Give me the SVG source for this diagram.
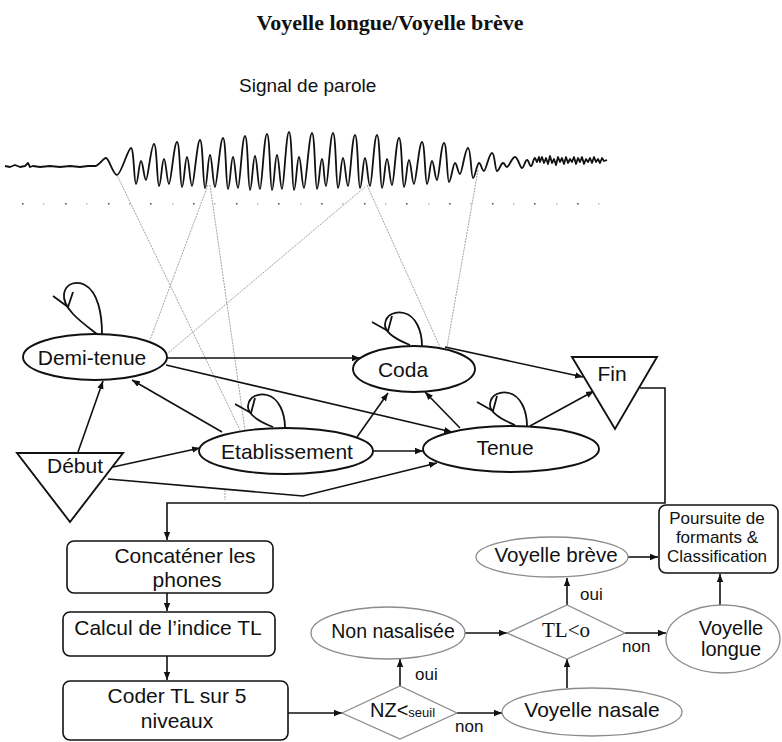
<svg xmlns="http://www.w3.org/2000/svg" width="782" height="742" viewBox="0 0 782 742">
<style>
.t{font-family:"Liberation Sans",Arial,sans-serif;fill:#111;text-anchor:middle}
.node{fill:#fff;stroke:#111;stroke-width:1.9}
.gnode{fill:#fff;stroke:#8c8c8c;stroke-width:1.3}
.box{fill:#fff;stroke:#111;stroke-width:1.6}
.edge{fill:none;stroke:#111;stroke-width:1.6;marker-end:url(#ah)}
.loop{fill:none;stroke:#111;stroke-width:1.8}
.map{fill:none;stroke:#8a8a8a;stroke-width:0.8;stroke-dasharray:2 1}
</style>
<defs>
<marker id="ah" viewBox="0 0 10 10" refX="10" refY="5" markerWidth="8" markerHeight="8" markerUnits="userSpaceOnUse" orient="auto"><path d="M0,1 L10,5 L0,9 z" fill="#111"/></marker>
<g id="loopL"><path class="loop" d="M -5,0 C -18,-10 -40,-25 -38,-40 C -36,-52 -24,-53 -17,-49 C -4,-42 0,-20 0,0"/><path class="loop" d="M -49,-38 L -34,-27 L -29,-42"/></g>
<g id="loopS"><path class="loop" d="M -12,-1 C -22,-5 -38,-12 -37,-22 C -36,-32 -26,-35 -18,-33 C -6,-30 0,-15 0,0"/><path class="loop" d="M -50,-24 L -34,-15 L -30,-30"/></g>
</defs>
<rect width="782" height="742" fill="#fff"/>

<text x="390" y="30" style="font-family:'Liberation Serif','Times New Roman',serif;font-weight:bold;font-size:22px;text-anchor:middle;fill:#111">Voyelle longue/Voyelle brève</text>
<text x="239" y="92" style="font-family:'Liberation Sans',Arial,sans-serif;font-size:19px;fill:#111">Signal de parole</text>

<g id="waveform">
<path fill="none" stroke="#111" stroke-width="1.8" stroke-linejoin="round" d="M5,166 L10,167 15,165 20,167 25,166 28,163 30,167 33,166 40,167 50,166 60,167 70,166 80,167 88,166 95,166 C99,166 103,158 106,158 S113,175 117,175 S128,148 131,148 S134,184 136,184 S139,161 141,161 S144,180 146,180 S151,144 154,144 S157,186 159,186 S162,159 164,159 S167,184 169,184 S174,142 177,142 S180,187 182,187 S185,157 187,157 S190,186 192,186 S197,140 200,140 S203,188 205,188 S208,155 210,155 S213,187 215,187 S220,138 223,138 S226,189 228,189 S231,157 233,157 S236,188 238,188 S242,136 245,136 S248,190 250,190 S253,156 255,156 S258,189 260,189 S264,134 267,134 S270,190 272,190 S275,155 277,155 S280,189 282,189 S286,132 289,132 S292,190 294,190 S297,157 299,157 S302,188 304,188 S309,133 312,133 S315,189 317,189 S320,159 322,159 S324,186 326,186 S330,133 333,133 S336,188 338,188 S341,158 343,158 S346,186 348,186 S352,135 355,135 S358,188 360,188 S363,158 365,158 S368,186 370,186 S374,135 377,135 S380,188 382,188 S385,159 387,159 S390,185 392,185 S396,138 399,138 S402,187 404,187 S407,160 409,160 S412,184 414,184 S419,142 422,142 S425,184 427,184 S430,161 432,161 S435,180 437,180 S441,143 444,143 S447,182 449,182 S453,163 455,163 S458,174 460,174 S465,148 468,148 S471,178 473,178 S477,163 479,163 S482,171 484,171 S489,153 492,153 S495,171 497,171 S501,163 503,163 S505,167 507,167 S512,157 515,157 S520,168 522,168 S525,160 527,160 S529,166 531,166 S533,158 535,158 L537,162 539,157 540,162 542,157 544,163 546,158 548,164 550,156 552,163 554,159 556,165 558,157 560,162 562,158 564,164 566,157 568,163 570,159 572,162 574,157 576,164 578,158 580,162 582,157 584,164 586,159 588,162 590,158 592,163 594,157 596,162 598,159 600,163 602,158 604,161 607,160"/>
<path fill="#555" d="M22,203h1.6v1.6h-1.6z M65,203h1.6v1.6h-1.6z M108,203h1.6v1.6h-1.6z M150,203h1.6v1.6h-1.6z M193,203h1.6v1.6h-1.6z M236,203h1.6v1.6h-1.6z M278,203h1.6v1.6h-1.6z M321,203h1.6v1.6h-1.6z M364,203h1.6v1.6h-1.6z M406,203h1.6v1.6h-1.6z M449,203h1.6v1.6h-1.6z M492,203h1.6v1.6h-1.6z M534,203h1.6v1.6h-1.6z M577,203h1.6v1.6h-1.6z"/>
<path fill="#b0b0b0" d="M43,203h1.4v1.4h-1.4z M86,203h1.4v1.4h-1.4z M129,203h1.4v1.4h-1.4z M172,203h1.4v1.4h-1.4z M214,203h1.4v1.4h-1.4z M257,203h1.4v1.4h-1.4z M300,203h1.4v1.4h-1.4z M342,203h1.4v1.4h-1.4z M385,203h1.4v1.4h-1.4z M428,203h1.4v1.4h-1.4z M470,203h1.4v1.4h-1.4z M513,203h1.4v1.4h-1.4z M556,203h1.4v1.4h-1.4z M598,203h1.4v1.4h-1.4z"/>
</g>

<g id="mapping">
<line class="map" x1="117" y1="175" x2="240" y2="430"/>
<line class="map" x1="208" y1="185" x2="150" y2="340"/>
<line class="map" x1="210" y1="185" x2="245" y2="430"/>
<line class="map" x1="365" y1="187" x2="168" y2="353"/>
<line class="map" x1="367" y1="185" x2="440" y2="347"/>
<line class="map" x1="478" y1="170" x2="447" y2="347"/>
<line class="map" x1="225" y1="490" x2="225" y2="500"/>
</g>

<g id="connectors">
<path class="edge" d="M167,358 L360,358"/>
<path class="edge" d="M166,365 L452,432"/>
<path class="edge" d="M78,452 L103,381"/>
<path class="edge" d="M222,432 L132,380"/>
<path class="edge" d="M113,467 L200,448"/>
<path class="edge" d="M108,479 L303,496 L437,463"/>
<path class="edge" d="M357,437 L388,393"/>
<path class="edge" d="M373,451 L423,451"/>
<path class="edge" d="M460,428 L425,392"/>
<path class="edge" d="M445,347 L583,377"/>
<path class="edge" d="M530,426 L594,391"/>
<path class="edge" d="M640,388 L665,388 L665,503 L167,503 L167,540"/>
<path class="edge" d="M167,593 L167,611"/>
<path class="edge" d="M167,656 L167,680"/>
<path class="edge" d="M288,713 L342,713"/>
<path class="edge" d="M400,686 L400,659"/>
<path class="edge" d="M457,713 L502,713"/>
<path class="edge" d="M567,688 L567,659"/>
<path class="edge" d="M465,633 L507,633"/>
<path class="edge" d="M567,605 L567,578"/>
<path class="edge" d="M625,633 L666,633"/>
<path class="edge" d="M628,557 L658,557"/>
<path class="edge" d="M720,605 L720,574"/>
<use href="#loopL" x="102" y="334"/>
<use href="#loopS" x="285" y="428"/>
<use href="#loopS" x="422" y="346"/>
<use href="#loopS" x="527" y="426"/>
</g>

<g id="demi-tenue"><ellipse class="node" cx="95" cy="357" rx="72" ry="23"/><text class="t" x="92" y="365" font-size="21">Demi-tenue</text></g>
<g id="etablissement"><ellipse class="node" cx="286" cy="451" rx="87" ry="23"/><text class="t" x="287" y="459" font-size="21">Etablissement</text></g>
<g id="coda"><ellipse class="node" cx="414" cy="369" rx="61" ry="23"/><text class="t" x="403" y="377" font-size="21">Coda</text></g>
<g id="tenue"><ellipse class="node" cx="511" cy="449" rx="88" ry="23"/><text class="t" x="505" y="455" font-size="21">Tenue</text></g>
<g id="debut"><polygon class="node" points="17,453 123,453 70,522"/><text class="t" x="75" y="473" font-size="21">Début</text></g>
<g id="fin"><polygon class="node" points="572,357 657,357 615,429"/><text class="t" x="612" y="381" font-size="21">Fin</text></g>

<g id="concatener"><rect class="box" x="67" y="541" width="206" height="52" rx="7"/><text class="t" x="185" y="563" font-size="21">Concaténer les</text><text class="t" x="187" y="587" font-size="21">phones</text></g>
<g id="calcul"><rect class="box" x="63" y="612" width="212" height="44" rx="7"/><text class="t" x="168" y="635" font-size="21">Calcul de l’indice TL</text></g>
<g id="coder"><rect class="box" x="63" y="681" width="225" height="59" rx="7"/><text class="t" x="177" y="703" font-size="21">Coder TL sur 5</text><text class="t" x="177" y="728" font-size="21">niveaux</text></g>
<g id="nz"><polygon class="gnode" points="342,713 400,686 457,713 400,739"/><text x="370" y="717" style="font-family:'Liberation Sans',Arial,sans-serif;font-size:20px;fill:#111">NZ&lt;<tspan font-size="13">seuil</tspan></text></g>
<g id="non-nasalisee"><ellipse class="gnode" cx="388" cy="633" rx="77" ry="26"/><text class="t" x="393" y="638" font-size="19.5">Non nasalisée</text></g>
<g id="voyelle-nasale"><ellipse class="gnode" cx="592" cy="712" rx="90" ry="24"/><text class="t" x="592" y="717" font-size="21">Voyelle nasale</text></g>
<g id="tl"><polygon class="gnode" points="507,633 567,605 625,633 567,659"/><text x="566" y="637" style="font-family:'Liberation Serif','Times New Roman',serif;font-size:21px;text-anchor:middle;fill:#111">TL&lt;o</text></g>
<g id="voyelle-breve"><ellipse class="gnode" cx="552" cy="557" rx="76" ry="20"/><text class="t" x="556" y="562" font-size="20.5">Voyelle brève</text></g>
<g id="voyelle-longue"><ellipse class="gnode" cx="723" cy="639" rx="57" ry="34"/><text class="t" x="731" y="635" font-size="20">Voyelle</text><text class="t" x="731" y="656" font-size="20">longue</text></g>
<g id="poursuite"><rect class="box" x="659" y="505" width="119" height="68" rx="7"/><text class="t" x="717" y="524" font-size="17">Poursuite de</text><text class="t" x="717" y="543" font-size="17">formants &amp;</text><text class="t" x="717" y="562" font-size="17">Classification</text></g>

<g id="labels" style="font-family:'Liberation Sans',Arial,sans-serif;font-size:17px;fill:#111">
<text x="415" y="680">oui</text>
<text x="455" y="732">non</text>
<text x="580" y="600">oui</text>
<text x="622" y="652">non</text>
</g>
</svg>
